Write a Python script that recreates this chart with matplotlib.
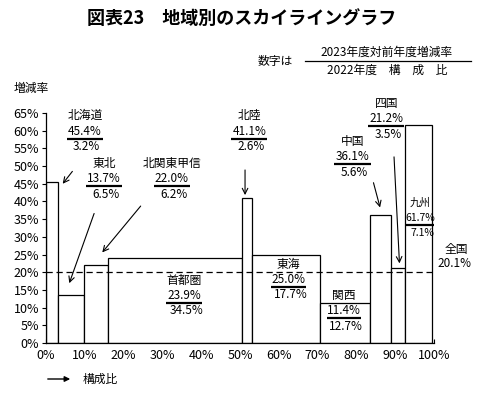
import numpy as np
import matplotlib
matplotlib.use('Agg')
import matplotlib.pyplot as plt

plt.rcParams['font.family'] = ['Noto Sans CJK JP', 'DejaVu Sans']

# data: 2023 growth rate vs previous year, 2022 composition ratio
regions = ['北海道', '東北', '北関東甲信', '首都圏', '北陸', '東海', '関西', '中国', '四国', '九州']
growth = [45.4, 13.7, 22.0, 23.9, 41.1, 25.0, 11.4, 36.1, 21.2, 61.7]
share = [3.2, 6.5, 6.2, 34.5, 2.6, 17.7, 12.7, 5.6, 3.5, 7.1]
national = 20.1

# label layout: (x centre, baseline of name, underline half width, arrow start, arrow tip)
label_pos = {
    '北海道': (10.0, 63.2, 4.7, (6.8, 48.5), (4.3, 45.0)),
    '東北': (15.0, 49.8, 4.6, (12.4, 36.6), (6.0, 16.9)),
    '北関東甲信': (32.4, 49.8, 4.6, (24.4, 38.7), (14.5, 25.6)),
    '首都圏': (35.6, 16.8, 4.6, None, None),
    '北陸': (52.4, 63.2, 4.6, (51.3, 48.9), (51.3, 41.8)),
    '東海': (62.5, 21.3, 4.5, None, None),
    '関西': (76.8, 12.4, 4.3, None, None),
    '中国': (79.0, 56.0, 4.7, (84.4, 45.3), (86.1, 38.3)),
    '四国': (87.7, 66.7, 4.6, (89.7, 52.6), (91.1, 22.5)),
    '九州': (96.4, 38.8, 3.5, None, None),
}

fig = plt.figure(figsize=(4.84, 3.96), dpi=100)
ax = fig.add_axes([46 / 484, 1 - 343 / 396, 388 / 484, 230 / 396])

left = np.concatenate([[0], np.cumsum(share)[:-1]])
ax.bar(left, growth, width=share, align='edge', color='white',
       edgecolor='black', linewidth=0.9, zorder=2)
ax.axhline(national, color='black', linestyle=(0, (5, 3)), linewidth=0.9, zorder=3)

ax.set_xlim(0, 100)
ax.set_ylim(0, 65)
ax.set_xticks(np.arange(0, 101, 10))
ax.set_xticklabels([f'{v}%' for v in range(0, 101, 10)])
ax.set_yticks(np.arange(0, 66, 5))
ax.set_yticklabels([f'{v}%' for v in range(0, 66, 5)])
ax.tick_params(axis='x', direction='in', length=3, labelsize=9, pad=4)
ax.tick_params(axis='y', direction='out', length=3, labelsize=9, pad=2)
for s in ['top', 'right']:
    ax.spines[s].set_visible(False)
for s in ['left', 'bottom']:
    ax.spines[s].set_linewidth(0.9)

for name, g, sh in zip(regions, growth, share):
    x, y, hw, a0, a1 = label_pos[name]
    fs = 7.5 if name == '九州' else 8.5
    ax.text(x, y, name, ha='center', va='baseline', fontsize=fs, zorder=5)
    ax.text(x, y - 4.3, f'{g:.1f}%', ha='center', va='baseline', fontsize=fs, zorder=5)
    ax.plot([x - hw, x + hw], [y - 5.45, y - 5.45], color='black', lw=1.6,
            clip_on=False, zorder=5, solid_capstyle='butt')
    ax.text(x + 0.5, y - 8.7, f'{sh:.1f}%', ha='center', va='baseline', fontsize=fs, zorder=5)
    if a0 is not None:
        ax.annotate('', xy=a1, xytext=a0,
                    arrowprops=dict(arrowstyle='->', lw=0.8, color='black',
                                    mutation_scale=10, shrinkA=0, shrinkB=0))

ax.text(105.7, 25.5, '全国', ha='center', va='baseline', fontsize=8.5, clip_on=False)
ax.text(105.2, 21.4, f'{national:.1f}%', ha='center', va='baseline', fontsize=8.5, clip_on=False)

# title and notes
fig.text(0.5, 1 - 18 / 396, '図表23　地域別のスカイライングラフ', ha='center', va='center',
         fontsize=13, fontweight='bold')
fig.text(275 / 484, 1 - 62 / 396, '数字は', ha='center', va='center', fontsize=8.5)
fig.text(387 / 484, 1 - 52 / 396, '2023年度対前年度増減率', ha='center', va='center', fontsize=8.5)
fig.text(387 / 484, 1 - 70 / 396, '2022年度　構　成　比', ha='center', va='center', fontsize=8.5)
fig.add_artist(plt.Line2D([305 / 484, 471 / 484], [1 - 61 / 396, 1 - 61 / 396],
                          color='black', lw=0.9))
fig.text(14 / 484, 1 - 88 / 396, '増減率', ha='left', va='center', fontsize=8.5)

fig.add_artist(matplotlib.patches.FancyArrowPatch(
    (45 / 484, 1 - 379 / 396), (73 / 484, 1 - 379 / 396), transform=fig.transFigure,
    arrowstyle='-|>', mutation_scale=8, lw=1.0, color='black'))
fig.text(83 / 484, 1 - 379 / 396, '構成比', ha='left', va='center', fontsize=8.5)

fig.savefig('out.png', dpi=100)
